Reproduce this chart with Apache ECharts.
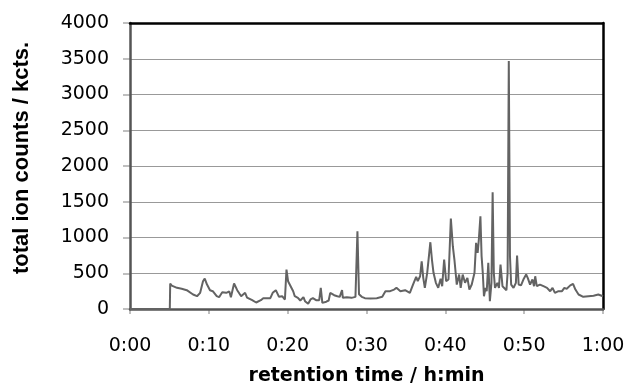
<!DOCTYPE html>
<html>
<head>
<meta charset="utf-8">
<script src="https://cdn.jsdelivr.net/npm/echarts@6/dist/echarts.min.js"></script>
<style>
  html, body { margin: 0; padding: 0; background: #fff; }
  #wrap { position: relative; width: 627px; height: 384px; }
  #gridChart, #chart { position: absolute; left: 0; top: 0; width: 627px; height: 384px; }
</style>
</head>
<body>
<div id="wrap">
  <div id="gridChart"></div>
  <div id="chart"></div>
</div>
<script>
// retention time in minutes
var times = [0, 5.05, 5.1, 5.3, 5.96, 6.56, 7.2, 8.0, 8.5, 8.9, 9.26, 9.48, 9.77, 10.15, 10.5, 11.0, 11.3, 11.7, 12.2, 12.6,
	12.8, 13.2, 13.6, 14.1, 14.6, 14.85, 15.5, 16.0, 16.6, 16.9, 17.8, 18.1, 18.5, 18.9, 19.3, 19.65, 19.85, 20.05, 20.3, 20.7,
	20.9, 21.3, 21.6, 22.0, 22.2, 22.6, 22.9, 23.2, 23.6, 24.0, 24.2, 24.4, 24.9, 25.2, 25.4, 25.9, 26.3, 26.6, 26.9, 27.0,
	27.5, 28.1, 28.6, 28.85, 29.05, 29.4, 29.8, 30.5, 31.3, 32.0, 32.4, 33.0, 33.5, 33.8, 34.3, 34.9, 35.5, 35.9, 36.3, 36.5,
	36.8, 37.0, 37.2, 37.4, 37.7, 38.1, 38.3, 38.5, 38.8, 39.1, 39.4, 39.6, 39.85, 40.1, 40.4, 40.7, 40.95, 41.15, 41.45, 41.75,
	41.95, 42.2, 42.5, 42.8, 43.05, 43.35, 43.7, 43.9, 44.1, 44.25, 44.45, 44.6, 44.75, 44.9, 45.1, 45.25, 45.45, 45.65, 45.85, 46.0,
	46.15, 46.3, 46.6, 46.8, 47.0, 47.25, 47.5, 47.75, 47.9, 48.05, 48.2, 48.35, 48.65, 48.95, 49.1, 49.3, 49.6, 49.9, 50.25, 50.45,
	50.75, 51.05, 51.25, 51.4, 51.6, 52.0, 52.45, 52.9, 53.3, 53.6, 53.9, 54.35, 54.8, 55.1, 55.4, 55.85, 56.2, 56.5, 56.9, 57.5,
	58.15, 58.8, 59.4, 60.0];

// total ion counts (kcts.)
var counts = [0, 0, 356, 328, 296, 282, 263, 203, 179, 226, 389, 426, 342, 263, 249, 179, 165, 235, 226, 245,
	165, 356, 263, 179, 226, 160, 123, 91, 123, 151, 151, 226, 263, 170, 179, 133, 552, 389, 366, 249,
	179, 156, 119, 165, 109, 73, 134, 151, 123, 123, 296, 86, 102, 119, 226, 193, 179, 170, 263, 156,
	165, 156, 170, 1087, 207, 170, 151, 146, 151, 170, 249, 249, 272, 296, 249, 263, 226, 342, 450, 389,
	458, 665, 436, 296, 506, 934, 692, 506, 366, 296, 422, 319, 692, 389, 412, 1265, 878, 692, 342, 482,
	296, 482, 366, 436, 272, 342, 506, 925, 785, 971, 1297, 738, 506, 179, 296, 249, 646, 109, 366, 1632,
	506, 296, 366, 296, 622, 319, 296, 263, 506, 3470, 738, 342, 296, 366, 748, 342, 330, 412, 482, 436,
	342, 412, 319, 458, 319, 342, 319, 296, 249, 296, 226, 249, 249, 296, 282, 330, 352, 272, 203, 170,
	179, 186, 203, 179];

// x tick labels, one per 10 min
var xTickLabels = ['0:00', '0:10', '0:20', '0:30', '0:40', '0:50', '1:00'];

var gridRect = { left : 130, right : 24, top : 23, bottom : 75, outerBoundsMode : 'none' };

// 底层: 只画网格线和刻度
var gridChart = echarts.init(document.getElementById('gridChart'));
gridChart.setOption({
	animation : false,
	grid : gridRect,
	xAxis : { type : 'value', min : 0, max : 60, interval : 10,
		axisLine : { show : false },
		axisTick : { show : true, length : 5, lineStyle : { color : '#aaa', width : 1.5 } },
		axisLabel : { color : 'rgba(0,0,0,0)' },
		splitLine : { show : false } },
	yAxis : { type : 'value', min : 0, max : 4000, interval : 500,
		axisLine : { show : false },
		axisTick : { show : true, length : 7, lineStyle : { color : '#aaa', width : 1.5 } },
		axisLabel : { color : 'rgba(0,0,0,0)' },
		splitLine : { show : true, lineStyle : { color : '#999', width : 1 } } },
	series : [ { type : 'line', data : [], showSymbol : false } ]
});

var pts = [];
for (var i = 0; i < times.length; i++) {
	pts.push([times[i], counts[i]]);
}

// 上层: 曲线、轴线、标签、边框
var chart = echarts.init(document.getElementById('chart'));
chart.setOption({
	animation : false,
	backgroundColor : 'transparent',
	grid : gridRect,
	xAxis : [ {
		type : 'value',
		min : 0,
		max : 60,
		interval : 10,
		name : 'retention time / h:min',
		nameLocation : 'middle',
		nameGap : 58,
		nameTextStyle : { color : '#000', fontFamily : 'DejaVu Sans', fontWeight : 'bold', fontSize : 19 },
		axisLine : { show : true, onZero : false, lineStyle : { color : '#555', width : 2.5 } },
		axisTick : { show : false },
		splitLine : { show : false },
		axisLabel : {
			margin : 28,
			color : '#000',
			fontFamily : 'DejaVu Sans',
			fontSize : 19,
			formatter : function (v) { return xTickLabels[Math.round(v / 10)]; }
		}
	}, {
		// 上边框
		type : 'value', position : 'top', min : 0, max : 60,
		axisLine : { show : true, onZero : false, lineStyle : { color : '#000', width : 2.5 } },
		axisTick : { show : false }, axisLabel : { show : false }, splitLine : { show : false }
	} ],
	yAxis : [ {
		type : 'value',
		min : 0,
		max : 4000,
		interval : 500,
		name : 'total ion counts / kcts.',
		nameLocation : 'middle',
		nameGap : 97,
		nameTextStyle : { color : '#000', fontFamily : 'Liberation Sans', fontWeight : 'bold', fontSize : 22, padding : [0, 0, 0, 16] },
		axisLine : { show : true, onZero : false, lineStyle : { color : '#555', width : 2.5 } },
		axisTick : { show : false },
		splitLine : { show : false },
		axisLabel : {
			margin : 21,
			color : '#000',
			fontFamily : 'DejaVu Sans',
			fontSize : 19,
			formatter : function (v) { return String(v); }
		}
	}, {
		// 右边框
		type : 'value', position : 'right', min : 0, max : 4000,
		axisLine : { show : true, onZero : false, lineStyle : { color : '#000', width : 2.5 } },
		axisTick : { show : false }, axisLabel : { show : false }, splitLine : { show : false }
	} ],
	series : [ {
		type : 'line',
		data : pts,
		showSymbol : false,
		lineStyle : { color : '#636363', width : 2 }
	} ]
});
</script>
</body>
</html>
